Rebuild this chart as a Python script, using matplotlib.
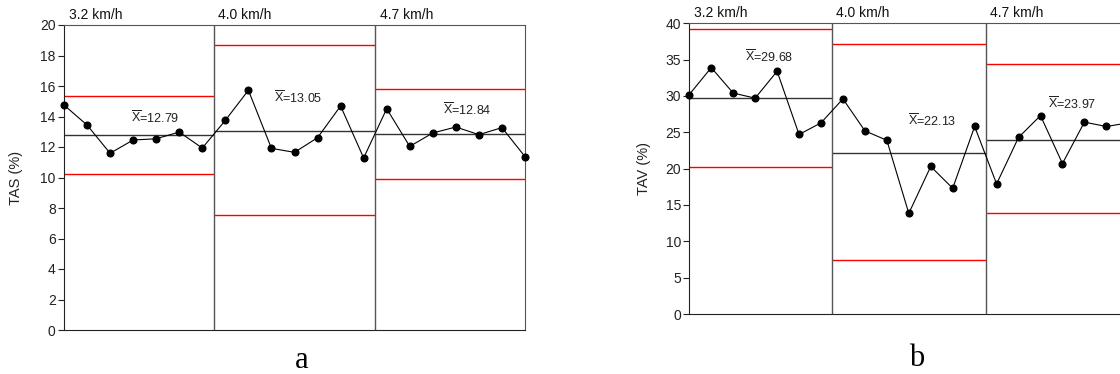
import numpy as np
import matplotlib.pyplot as plt

plt.rcParams['font.family'] = ['Liberation Sans', 'DejaVu Sans']
plt.rcParams['mathtext.fontset'] = 'custom'
plt.rcParams['mathtext.rm'] = 'Liberation Sans'

speeds = ['3.2 km/h', '4.0 km/h', '4.7 km/h']

# TAS (%) - panel a
tas = [14.75, 13.44, 11.59, 12.46, 12.54, 12.98, 11.93,
       13.75, 15.72, 11.91, 11.65, 12.61, 14.69, 11.28,
       14.51, 12.04, 12.92, 13.31, 12.81, 13.27, 11.37]
tas_mean = [12.79, 13.05, 12.84]
tas_ucl = [15.36, 18.70, 15.83]
tas_lcl = [10.25, 7.54, 9.92]
tas_label_pos = [(3.95, 13.9), (10.15, 15.2), (17.5, 14.4)]

# TAV (%) - panel b
tav = [30.2, 33.9, 30.4, 29.7, 33.4, 24.7, 26.3,
       29.6, 25.2, 23.9, 13.85, 20.3, 17.3, 25.8,
       17.9, 24.3, 27.3, 20.7, 26.4, 25.8, 26.3]
tav_mean = [29.68, 22.13, 23.97]
tav_ucl = [39.25, 37.18, 34.34]
tav_lcl = [20.17, 7.38, 13.85]
tav_label_pos = [(3.64, 35.4), (11.07, 26.6), (17.45, 28.85)]

fig = plt.figure(figsize=(11.2, 3.74), dpi=100)


def control_chart(ax, vals, means, ucl, lcl, label_pos, ymax, ystep, ylabel):
    x = np.arange(len(vals))
    edges = [-0.5, 6.5, 13.5, 20.5]
    for k in range(3):
        x0, x1 = max(edges[k], 0), edges[k + 1]
        ax.hlines([ucl[k], lcl[k]], x0, x1, colors='#ff0000', lw=1.0, zorder=2)
        ax.hlines(means[k], x0, x1, colors='#333333', lw=1.0, zorder=2)
        ax.text(label_pos[k][0], label_pos[k][1],
                r'$\overline{\mathrm{X}}$=' + f'{means[k]:.2f}',
                ha='center', va='center', fontsize=9, color='#222222')
        ax.text(max(edges[k], 0) + 0.2, 1.01, speeds[k], transform=ax.get_xaxis_transform(),
                ha='left', va='bottom', fontsize=10, color='#111111')
    for b in edges[1:3]:
        ax.axvline(b, color='#555555', lw=1.0, zorder=2)
    ax.plot(x, vals, color='black', lw=0.8, marker='o', ms=4.8, zorder=4, clip_on=False)
    ax.set_xlim(0, 20)
    ax.set_ylim(0, ymax)
    ax.set_yticks(np.arange(0, ymax + 0.1, ystep))
    ax.set_xticks([])
    ax.tick_params(axis='y', labelsize=10, length=4, colors='#222222', pad=2)
    for s in ['top', 'right']:
        ax.spines[s].set_color('#555555')
    for s in ['left', 'bottom']:
        ax.spines[s].set_color('#222222')
    ax.set_ylabel(ylabel, fontsize=10.5, color='#222222')
    ax.yaxis.set_label_coords(-0.088, 0.5)


ax1 = fig.add_axes([64 / 1120, 44 / 374, 461 / 1120, 305 / 374])
control_chart(ax1, tas, tas_mean, tas_ucl, tas_lcl, tas_label_pos, 20, 2, 'TAS (%)')
fig.text(302 / 1120, 1 - 360 / 374, 'a', family='Liberation Serif', fontsize=22,
         ha='center', va='center')

ax2 = fig.add_axes([689.3 / 1120, 60 / 374, 439 / 1120, 290.7 / 374])
control_chart(ax2, tav, tav_mean, tav_ucl, tav_lcl, tav_label_pos, 40, 5, 'TAV (%)')
fig.text(917 / 1120, 1 - 358 / 374, 'b', family='Liberation Serif', fontsize=22,
         ha='center', va='center')

fig.savefig('out.png', dpi=100)
